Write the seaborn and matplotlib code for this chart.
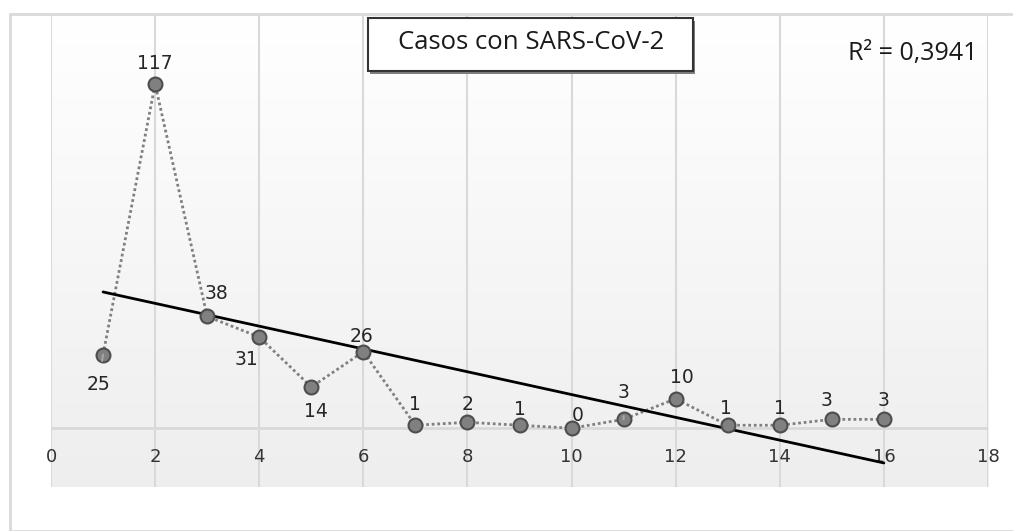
import numpy as np
import matplotlib
matplotlib.use("Agg")
import matplotlib.pyplot as plt
from matplotlib.colors import LinearSegmentedColormap
from matplotlib.patches import Rectangle
import seaborn as sns

# 数据: semana y casos
semanas = [1, 2, 3, 4, 5, 6, 7, 8, 9, 10, 11, 12, 13, 14, 15, 16]
casos = [25, 117, 38, 31, 14, 26, 1, 2, 1, 0, 3, 10, 1, 1, 3, 3]
x_ticks = [0, 2, 4, 6, 8, 10, 12, 14, 16, 18]
titulo = "Casos con SARS-CoV-2"

# desplazamiento de las etiquetas (pixeles)
offsets = [(-5, -30), (0, 21), (9, 23), (-13, -22), (5, -24), (-2, 15),
           (0, 21), (0, 18), (0, 16), (6, 13), (0, 27), (6, 21),
           (-2, 17), (0, 17), (-5, 19), (0, 19)]

sns.set_theme(style="white")
plt.rcParams['font.family'] = ['DejaVu Sans']

fig = plt.figure(figsize=(10.13, 5.31), dpi=100)
ax = fig.add_axes([51 / 1013, 44 / 531, 937 / 1013, 472 / 531])

# marco exterior del grafico
fig.patches.append(Rectangle((10 / 1013, 0), 1.2, 1 - 14 / 531,
                             transform=fig.transFigure, fill=False,
                             edgecolor='#d9d9d9', lw=2, zorder=0))

# fondo con degradado
cmap = LinearSegmentedColormap.from_list('fondo', ['#ffffff', '#eeeeee'])
ax.imshow(np.linspace(0, 1, 200).reshape(-1, 1), cmap=cmap, aspect='auto',
          extent=[0, 18, -20, 140.5], zorder=0)

# linea de puntos + marcadores
sns.lineplot(x=semanas, y=casos, ax=ax, color='#808080', lw=2,
             linestyle=(0, (1, 1)), zorder=3)
sns.scatterplot(x=semanas, y=casos, ax=ax, s=100, color='#808080',
                edgecolor='#4d4d4d', linewidth=1.5, zorder=5)

# linea de tendencia
sns.regplot(x=semanas, y=casos, ax=ax, scatter=False, ci=None, truncate=True,
            line_kws=dict(color='black', lw=2, zorder=4))

m, b = np.polyfit(semanas, casos, 1)
pred = np.polyval([m, b], semanas)
r2 = 1 - np.sum((np.array(casos) - pred) ** 2) / np.sum((np.array(casos) - np.mean(casos)) ** 2)

# etiquetas de datos (con linea guia en las que estan mas lejos)
for i, (xv, yv) in enumerate(zip(semanas, casos)):
    dx, dy = offsets[i]
    kw = {}
    if i in (0, 10):
        kw['arrowprops'] = dict(arrowstyle='-', color='#a6a6a6', lw=1.5,
                                shrinkA=8, shrinkB=5)
    ax.annotate(str(yv), (xv, yv), xytext=(dx, dy), textcoords='offset pixels',
                ha='center', va='center', fontsize=13.5, color='#262626',
                zorder=6, **kw)

# ejes
ax.set_xlim(0, 18)
ax.set_ylim(-20, 140.5)
ax.set_xticks(x_ticks)
ax.set_yticks([])
ax.axhline(0, color='#d9d9d9', lw=2, zorder=1)
ax.grid(axis='x', color='#d9d9d9', lw=1.5)
ax.set_axisbelow(True)
for s in ['top', 'left', 'right']:
    ax.spines[s].set_visible(False)
ax.spines['bottom'].set_position(('data', 0))
ax.spines['bottom'].set_visible(False)
ax.tick_params(axis='x', length=0, pad=14, labelsize=13, labelcolor='#333333')
ax.set_xlabel('')
ax.set_ylabel('')

# titulo en recuadro (con sombra) y R²
ax.add_patch(Rectangle((0.3405, 0.876), 0.347, 0.112, transform=ax.transAxes,
                       facecolor='#7f7f7f', edgecolor='none', zorder=7))
ax.add_patch(Rectangle((0.338, 0.881), 0.347, 0.112, transform=ax.transAxes,
                       facecolor='white', edgecolor='#333333', lw=1.5, zorder=7))
ax.text(0.512, 0.9407, titulo, transform=ax.transAxes, ha='center', va='center',
        fontsize=18.5, family=['Open Sans', 'DejaVu Sans'], color='#1a1a1a',
        zorder=8)
ax.text(0.851, 0.919, "R² = " + f"{r2:.4f}".replace('.', ','),
        transform=ax.transAxes, ha='left', va='center', fontsize=18,
        family=['Open Sans', 'DejaVu Sans'], color='#1a1a1a', zorder=7)

plt.savefig('out.png', dpi=100)
